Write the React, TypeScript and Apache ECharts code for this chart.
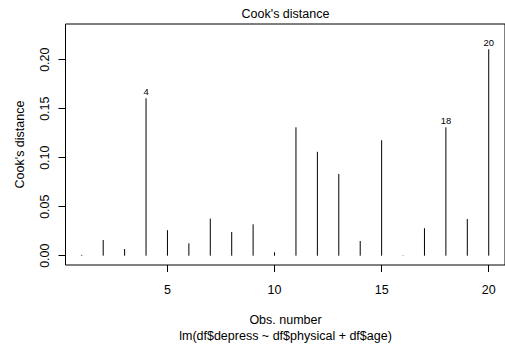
import React, { useEffect, useRef } from "react";
import * as echarts from "echarts";

const obsNumbers = [1, 2, 3, 4, 5, 6, 7, 8, 9, 10, 11, 12, 13, 14, 15, 16, 17, 18, 19, 20];
const cooksDistance = [
  0.0008, 0.016, 0.0068, 0.1606, 0.026, 0.0126, 0.0378, 0.0242, 0.032, 0.0035,
  0.131, 0.106, 0.0834, 0.015, 0.1178, 0.0004, 0.028, 0.131, 0.0375, 0.2106,
];
const labeledObs = [4, 18, 20];
const xTicks = [5, 10, 15, 20];
const yTicks = [0, 0.05, 0.1, 0.15, 0.2];
const yTickLabels = ["0.00", "0.05", "0.10", "0.15", "0.20"];

const FONT = "'Liberation Sans', Arial, Helvetica, sans-serif";
const FS = 12.5;

export default function App() {
  const ref = useRef<HTMLDivElement>(null);
  useEffect(() => {
    if (!ref.current) return;
    const chart = echarts.init(ref.current, undefined, { renderer: "svg" });
    const gridLeft = 65.5;
    const gridTop = 24;
    const gridW = 440;
    const gridH = 241;
    const cx = gridLeft + 220;
    const txt = (text: string, x: number, y: number, rot = 0) => ({
      type: "text",
      x,
      y,
      rotation: rot,
      style: {
        text,
        fontSize: FS,
        fontFamily: FONT,
        fill: "#000",
        textAlign: "center",
        textVerticalAlign: "middle",
      },
    });
    chart.setOption({
      animation: false,
      backgroundColor: "#ffffff",
      grid: {
        left: gridLeft,
        top: gridTop,
        width: gridW,
        height: gridH,
        show: true,
        borderColor: "#000",
        borderWidth: 1,
        backgroundColor: "transparent",
      },
      xAxis: {
        type: "value",
        min: 0.24,
        max: 20.76,
        position: "bottom",
        axisLine: { show: false, onZero: false },
        splitLine: { show: false },
        axisTick: {
          show: true,
          interval: 0,
          customValues: xTicks,
          length: 7,
          inside: false,
          lineStyle: { color: "#000", width: 1 },
        },
        axisLabel: {
          interval: 0,
          customValues: xTicks,
          margin: 18,
          color: "#000",
          fontSize: FS,
          fontFamily: FONT,
        },
      },
      yAxis: {
        type: "value",
        min: -0.0095,
        max: 0.2364,
        position: "left",
        axisLine: { show: false, onZero: false },
        splitLine: { show: false },
        axisTick: {
          show: true,
          interval: 0,
          customValues: yTicks,
          length: 7,
          inside: false,
          lineStyle: { color: "#000", width: 1 },
        },
        axisLabel: {
          interval: 0,
          customValues: yTicks,
          rotate: 90,
          margin: 14,
          color: "#000",
          fontSize: FS,
          fontFamily: FONT,
          formatter: (v: number) => {
            const i = yTicks.findIndex((t) => Math.abs(t - v) < 1e-9);
            return i >= 0 ? yTickLabels[i] : "";
          },
        },
      },
      graphic: [
        txt("Cook's distance", cx, 14),
        txt("Obs. number", cx, 320),
        txt("lm(df$depress ~ df$physical + df$age)", cx, 335.5),
        txt("Cook's distance", 20, gridTop + gridH / 2, Math.PI / 2),
      ],
      series: [
        {
          type: "custom",
          data: obsNumbers.map((o, i) => [o, cooksDistance[i]]),
          renderItem: (params: any, api: any) => {
            const x = api.value(0);
            const v = api.value(1);
            const p0 = api.coord([x, 0]);
            const p1 = api.coord([x, v]);
            const children: any[] = [
              {
                type: "line",
                shape: { x1: p0[0], y1: p0[1], x2: p1[0], y2: p1[1] },
                style: { stroke: "#000", lineWidth: 1 },
              },
            ];
            if (labeledObs.includes(x)) {
              children.push({
                type: "text",
                x: p1[0],
                y: p1[1] - 7,
                style: {
                  text: String(x),
                  fontSize: 9.4,
                  fontFamily: FONT,
                  fill: "#000",
                  textAlign: "center",
                  textVerticalAlign: "middle",
                },
              });
            }
            return { type: "group", children };
          },
        },
      ],
    });
    return () => chart.dispose();
  }, []);
  return (
    <div
      ref={ref}
      style={{ position: "fixed", left: 0, top: 0, width: 505, height: 344 }}
    />
  );
}
